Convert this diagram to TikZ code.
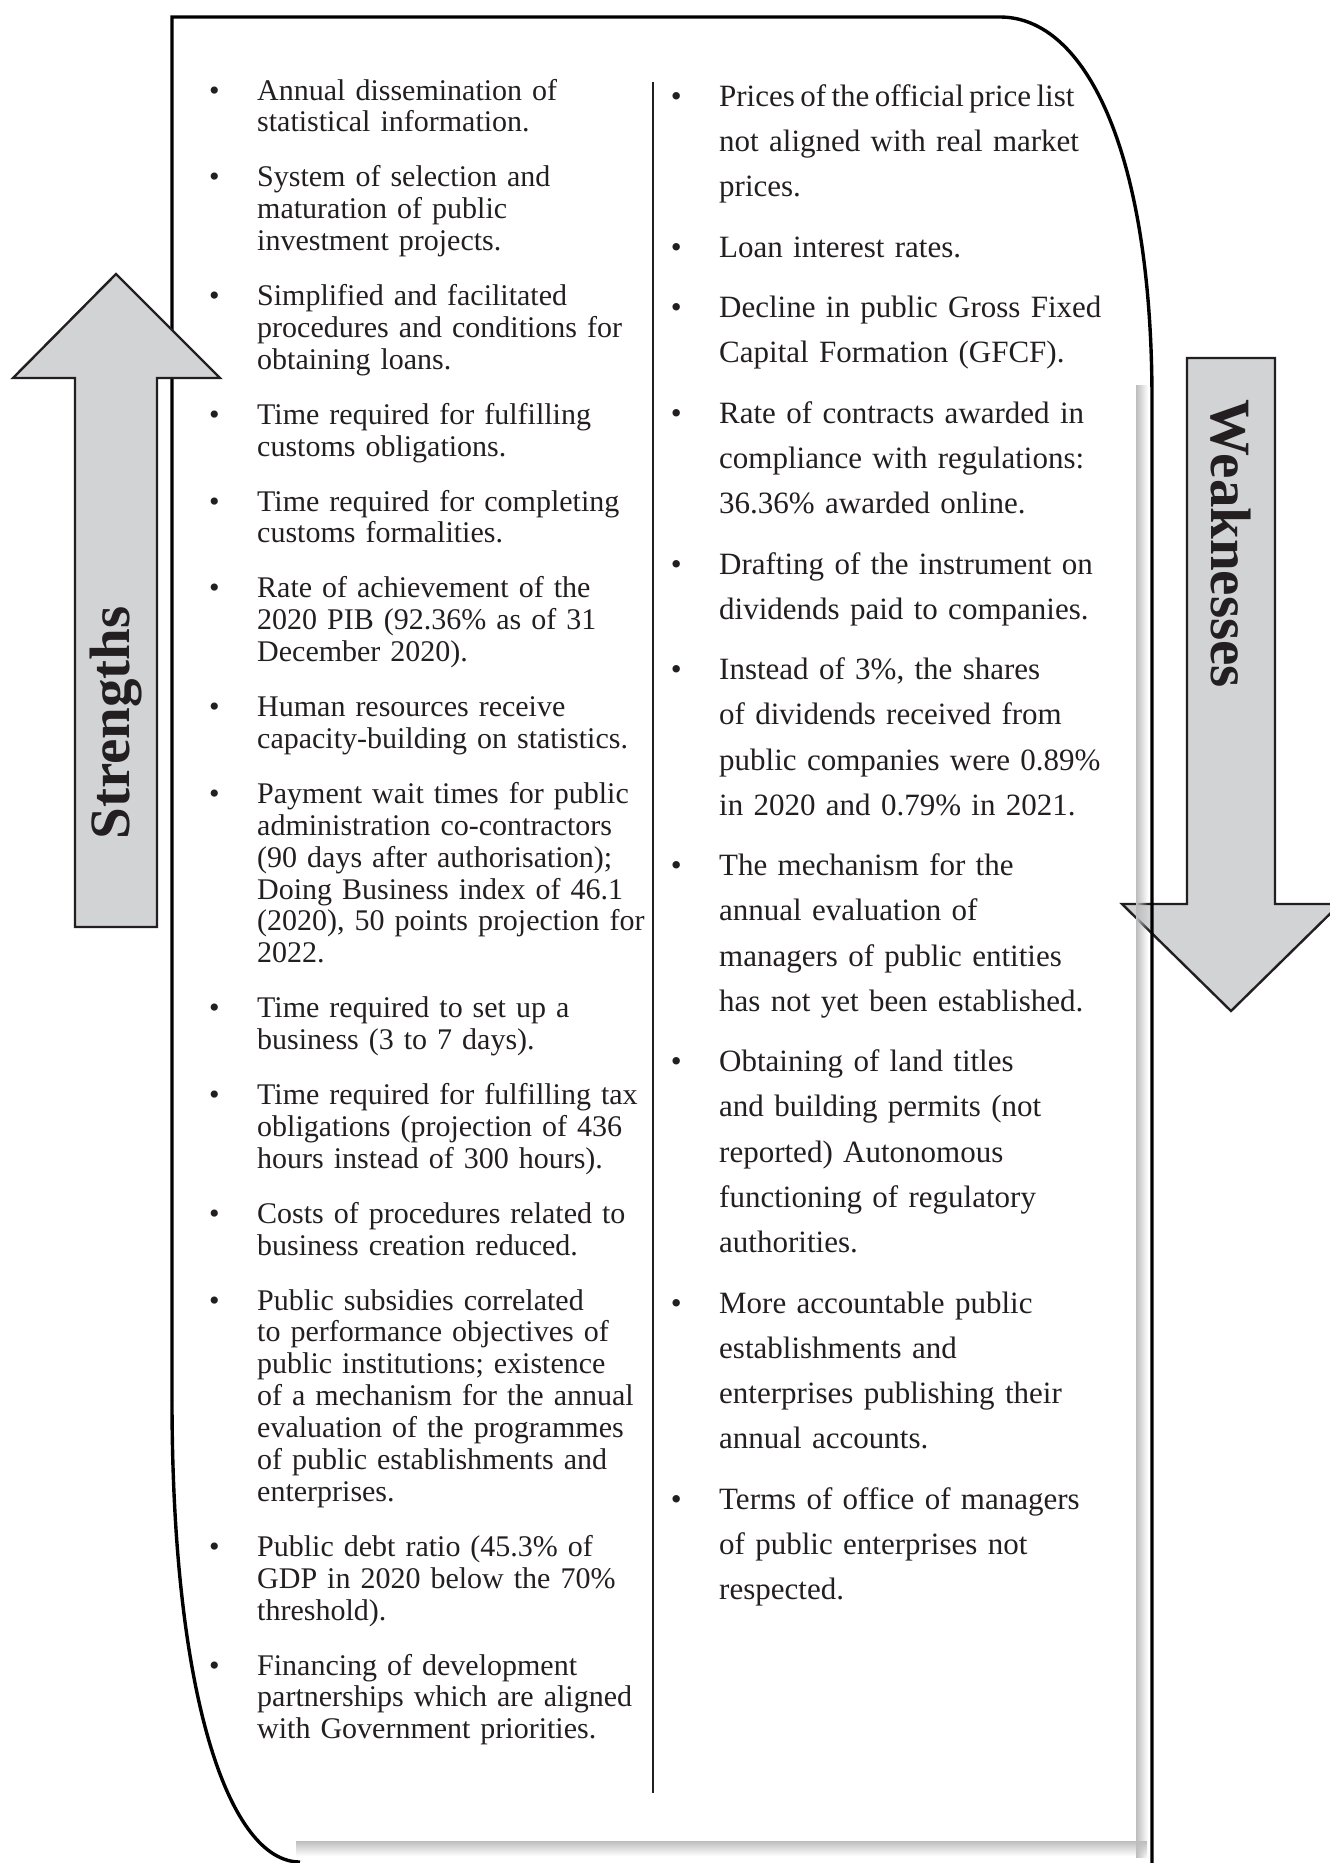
\documentclass[tikz,border=0pt]{standalone}
\usepackage{fontspec}
\setmainfont{Liberation Serif}
\usetikzlibrary{fadings}
\definecolor{ink}{HTML}{231F20}
\definecolor{arrowfill}{HTML}{D1D3D4}
\definecolor{shadowgrey}{HTML}{BDBDBD}
\tikzset{
  arrowbox/.style={fill=arrowfill, draw=ink, line width=2.4pt, line join=miter},
  framepath/.style={draw=black, line width=3.4pt},
  sitem/.style={anchor=base west, inner sep=0pt, text width=420pt, align=left, text=ink,
    font=\fontsize{30}{31.9}\selectfont},
  witem/.style={anchor=base west, inner sep=0pt, text width=420pt, align=left, text=ink,
    font=\fontsize{31}{45.3}\selectfont},
  biglabel/.style={inner sep=0pt, text=ink, font=\fontsize{57}{60}\selectfont\bfseries}
}
\newcommand{\sbul}{\llap{\textbullet\hspace{37.5pt}}}
\begin{document}
\begin{tikzpicture}[x=1pt,y=-1pt]
\useasboundingbox (0,0) rectangle (1330,1863);

% Weaknesses arrow (below the frame)
\draw[arrowbox] (1187,358) -- (1275,358) -- (1275,904) -- (1340,904) -- (1231,1011)
  -- (1122,904) -- (1187,904) -- cycle;

% inner shadow of the frame
\fill[shadowgrey, path fading=east] (1136,380) rectangle (1148,1856);
\fill[shadowgrey, path fading=south] (296,1841) rectangle (1148,1856);

% frame
\draw[framepath] (172,1400) -- (172,17) -- (1000,17)
  .. controls (1085,17) and (1152,150) .. (1152,400) -- (1152,1863);
\draw[framepath] (172,1400) .. controls (172,1700) and (230,1862) .. (300,1862);

% column divider
\draw[ink, line width=2pt] (653,82) -- (653,1793);

% Strengths arrow (above the frame)
\draw[arrowbox] (75,927) -- (75,378) -- (13,378) -- (116,274) -- (220,378)
  -- (157,378) -- (157,927) -- cycle;

\node[biglabel, rotate=90] (strengths) at (116,723) {Strengths};
\node[biglabel, rotate=-90] (weaknesses) at (1231,544) {Weaknesses};

% Strengths column
\node[sitem] (s1) at (257,100) {\sbul Annual dissemination of\\statistical information.};
\node[sitem] (s2) at (257,186.8) {\sbul System of selection and\\maturation of public\\investment projects.};
\node[sitem] (s3) at (257,305.5) {\sbul Simplified and facilitated\\procedures and conditions for\\obtaining loans.};
\node[sitem] (s4) at (257,424.2) {\sbul Time required for fulfilling\\customs obligations.};
\node[sitem] (s5) at (257,511) {\sbul Time required for completing\\customs formalities.};
\node[sitem] (s6) at (257,597.8) {\sbul Rate of achievement of the\\2020 PIB (92.36\% as of 31\\December 2020).};
\node[sitem] (s7) at (257,716.5) {\sbul Human resources receive\\capacity-building on statistics.};
\node[sitem] (s8) at (257,803.3) {\sbul Payment wait times for public\\administration co-contractors\\(90 days after authorisation);\\Doing Business index of 46.1\\(2020), 50 points projection for\\2022.};
\node[sitem] (s9) at (257,1017.7) {\sbul Time required to set up a\\business (3 to 7 days).};
\node[sitem] (s10) at (257,1104.5) {\sbul Time required for fulfilling tax\\obligations (projection of 436\\hours instead of 300 hours).};
\node[sitem] (s11) at (257,1223.2) {\sbul Costs of procedures related to\\business creation reduced.};
\node[sitem] (s12) at (257,1310) {\sbul Public subsidies correlated\\to performance objectives of\\public institutions; existence\\of a mechanism for the annual\\evaluation of the programmes\\of public establishments and\\enterprises.};
\node[sitem] (s13) at (257,1556.3) {\sbul Public debt ratio (45.3\% of\\GDP in 2020 below the 70\%\\threshold).};
\node[sitem] (s14) at (257,1675) {\sbul Financing of development\\partnerships which are aligned\\with Government priorities.};

% Weaknesses column
\node[witem] (w1) at (719,106) {\sbul {\spaceskip=5.4pt Prices of the official price list}\\not aligned with real market\\prices.};
\node[witem] (w2) at (719,257) {\sbul Loan interest rates.};
\node[witem] (w3) at (719,317.5) {\sbul Decline in public Gross Fixed\\Capital Formation (GFCF).};
\node[witem] (w4) at (719,423) {\sbul Rate of contracts awarded in\\compliance with regulations:\\36.36\% awarded online.};
\node[witem] (w5) at (719,574) {\sbul Drafting of the instrument on\\dividends paid to companies.};
\node[witem] (w6) at (719,679.5) {\sbul Instead of 3\%, the shares\\of dividends received from\\public companies were 0.89\%\\in 2020 and 0.79\% in 2021.};
\node[witem] (w7) at (719,875.5) {\sbul The mechanism for the\\annual evaluation of\\managers of public entities\\has not yet been established.};
\node[witem] (w8) at (719,1071.5) {\sbul Obtaining of land titles\\and building permits (not\\reported) Autonomous\\functioning of regulatory\\authorities.};
\node[witem] (w9) at (719,1313) {\sbul More accountable public\\establishments and\\enterprises publishing their\\annual accounts.};
\node[witem] (w10) at (719,1509) {\sbul Terms of office of managers\\of public enterprises not\\respected.};
\end{tikzpicture}
\end{document}
